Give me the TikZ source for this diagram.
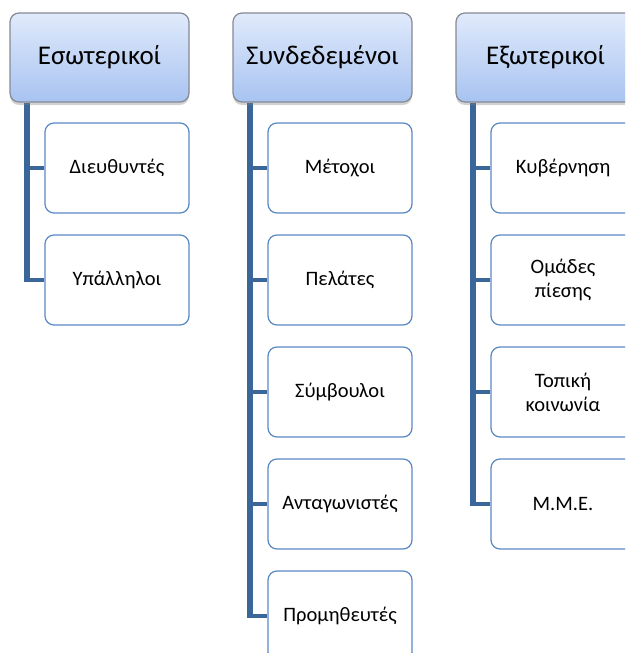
\documentclass[tikz,border=0pt]{standalone}
\usepackage{fontspec}
\setmainfont{Carlito}
\usetikzlibrary{shadows,backgrounds}
\definecolor{headtop}{HTML}{E0EAFB}
\definecolor{headbot}{HTML}{A8C3F1}
\definecolor{headline}{HTML}{858A94}
\definecolor{itemline}{HTML}{5A88C6}
\definecolor{connblue}{HTML}{3A6699}
\tikzset{
  headbox/.style={draw=headline, line width=1.2pt, rounded corners=9pt,
    top color=headtop, bottom color=headbot, minimum width=179pt,
    minimum height=89pt, inner sep=0pt, font=\fontsize{27}{30}\selectfont,
    drop shadow={shadow xshift=0pt, shadow yshift=-3pt, opacity=0.35, fill=gray}},
  itembox/.style={draw=itemline, line width=1.2pt, rounded corners=9pt,
    fill=white, minimum width=144pt, minimum height=90pt, inner sep=0pt,
    align=center, font=\fontsize{20.5}{24}\selectfont},
  trunk/.style={draw=connblue, line width=6pt, line cap=butt},
  branch/.style={draw=connblue, line width=4.5pt}
}
\begin{document}
\begin{tikzpicture}[x=1pt,y=-1pt]
\useasboundingbox (0,0) rectangle (625,653);
\clip (0,0) rectangle (625,653);

% group headers
\node[headbox] (h1) at (99.5,57.5) {Εσωτερικοί};
\node[headbox] (h2) at (322.5,57.5) {Συνδεδεμένοι};
\node[headbox] (h3) at (545.5,57.5) {Εξωτερικοί};

% internal stakeholders
\node[itembox] (a1) at (117,168) {Διευθυντές};
\node[itembox] (a2) at (117,280) {Υπάλληλοι};

% connected stakeholders
\node[itembox] (b1) at (340,168) {Μέτοχοι};
\node[itembox] (b2) at (340,280) {Πελάτες};
\node[itembox] (b3) at (340,392) {Σύμβουλοι};
\node[itembox] (b4) at (340,504) {Ανταγωνιστές};
\node[itembox] (b5) at (340,616) {Προμηθευτές};

% external stakeholders
\node[itembox] (c1) at (563,168) {Κυβέρνηση};
\node[itembox] (c2) at (563,280) {Ομάδες\\πίεσης};
\node[itembox] (c3) at (563,392) {Τοπική\\κοινωνία};
\node[itembox] (c4) at (563,504) {Μ.Μ.Ε.};

% white page and tree connectors behind the boxes
\begin{scope}[on background layer]
  \fill[white] (0,0) rectangle (625,653);
  \foreach \h/\last/\kids in {h1/a2/{a1,a2}, h2/b5/{b1,b2,b3,b4,b5}, h3/c4/{c1,c2,c3,c4}}{
    \coordinate (top) at ([xshift=18pt]\h.south west);
    \draw[trunk] (top) -- ([yshift=-2.25pt]top |- \last.west);
    \foreach \c in \kids
      \draw[branch] (top |- \c.west) -- (\c.west);
  }
\end{scope}
\end{tikzpicture}
\end{document}
